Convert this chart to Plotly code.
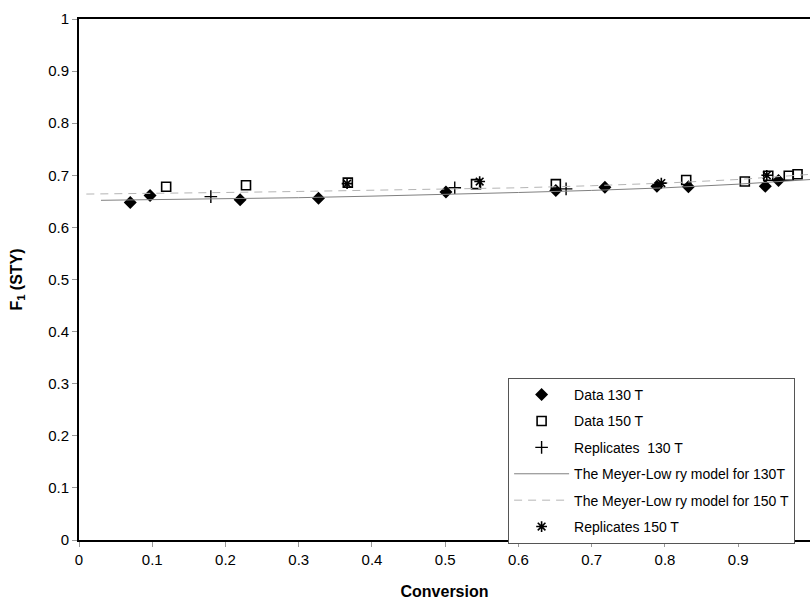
import plotly.graph_objects as go

# Data 130 T (filled diamonds)
conv_130 = [0.070, 0.097, 0.220, 0.327, 0.501, 0.651, 0.718, 0.789, 0.832, 0.937, 0.955]
f1_130 = [0.648, 0.661, 0.653, 0.656, 0.668, 0.671, 0.677, 0.679, 0.678, 0.679, 0.690]

# Data 150 T (open squares)
conv_150 = [0.119, 0.228, 0.367, 0.542, 0.651, 0.829, 0.909, 0.941, 0.969, 0.981]
f1_150 = [0.678, 0.681, 0.686, 0.683, 0.683, 0.691, 0.688, 0.699, 0.699, 0.702]

# Replicates 130 T (crosses)
conv_rep130 = [0.180, 0.513, 0.665]
f1_rep130 = [0.659, 0.676, 0.674]

# Replicates 150 T (asterisks)
conv_rep150 = [0.366, 0.547, 0.795, 0.939]
f1_rep150 = [0.684, 0.688, 0.685, 0.700]

# Meyer-Lowry model curves
model_conv_130 = [0.03, 0.1, 0.2, 0.3, 0.4, 0.5, 0.6, 0.7, 0.8, 0.9, 1.0]
model_f1_130 = [0.652, 0.653, 0.655, 0.657, 0.660, 0.663, 0.667, 0.671, 0.676, 0.683, 0.692]
model_conv_150 = [0.01, 0.1, 0.2, 0.3, 0.4, 0.5, 0.6, 0.7, 0.8, 0.9, 1.0]
model_f1_150 = [0.664, 0.665, 0.667, 0.669, 0.671, 0.673, 0.676, 0.680, 0.685, 0.692, 0.702]

x_ticks = [0, 0.1, 0.2, 0.3, 0.4, 0.5, 0.6, 0.7, 0.8, 0.9, 1.0]
y_ticks = [0, 0.1, 0.2, 0.3, 0.4, 0.5, 0.6, 0.7, 0.8, 0.9, 1.0]

FONT = "Liberation Sans, Arial, sans-serif"

fig = go.Figure()

fig.add_trace(go.Scatter(
    x=conv_130, y=f1_130, mode="markers", name="Data 130 T", legendgroup="a",
    marker=dict(symbol="diamond", size=10, color="black"),
))
fig.add_trace(go.Scatter(
    x=conv_150, y=f1_150, mode="markers", name="Data 150 T", legendgroup="b",
    marker=dict(symbol="square-open", size=9, color="black", line=dict(width=1.6, color="black")),
))
fig.add_trace(go.Scatter(
    x=conv_rep130, y=f1_rep130, mode="markers", name="Replicates  130 T", legendgroup="c",
    marker=dict(symbol="cross-thin-open", size=9, color="black", line=dict(width=1.4, color="black")),
))
fig.add_trace(go.Scatter(
    x=model_conv_130, y=model_f1_130, mode="lines", name="The Meyer-Low ry model for 130T",
    legendgroup="d", line=dict(color="#808080", width=1),
))
fig.add_trace(go.Scatter(
    x=model_conv_150, y=model_f1_150, mode="lines", name="The Meyer-Low ry model for 150 T",
    legendgroup="e", line=dict(color="#b5b5b5", width=1, dash="8px,6px"),
))
fig.add_trace(go.Scatter(
    x=conv_rep150, y=f1_rep150, mode="markers", name="Replicates 150 T", legendgroup="f",
    marker=dict(symbol="asterisk-open", size=9, color="black", line=dict(width=1.6, color="black")),
))

fig.update_layout(
    width=810, height=604,
    margin=dict(l=79, r=0, t=19, b=64),
    paper_bgcolor="white", plot_bgcolor="white",
    font=dict(family=FONT, size=15, color="black"),
    showlegend=True,
    legend=dict(
        x=0.587, y=0.311, xanchor="left", yanchor="top",
        bgcolor="white", bordercolor="#555555", borderwidth=1,
        font=dict(family=FONT, size=14, color="black"),
        tracegroupgap=5.2, itemwidth=55,
        entrywidth=320, entrywidthmode="pixels",
    ),
    xaxis=dict(
        range=[0, 0.998], tickvals=x_ticks, ticktext=[f"{v:g}" for v in x_ticks],
        showgrid=False, zeroline=False,
        showline=True, linecolor="black", linewidth=2, mirror=True,
        ticks="outside", ticklen=5, tickcolor="#999999",
        title=dict(text="<b>Conversion</b>", font=dict(family=FONT, size=16), standoff=19),
    ),
    yaxis=dict(
        range=[0, 1], tickvals=y_ticks, ticktext=[f"{v:g}" for v in y_ticks],
        showgrid=False, zeroline=False,
        showline=True, linecolor="black", linewidth=2,
        ticks="outside", ticklen=5, tickcolor="#999999",
        title=dict(text="<b>F<sub>1</sub> (STY)</b>", font=dict(family=FONT, size=16), standoff=22),
    ),
)

fig.write_html("out.html")
